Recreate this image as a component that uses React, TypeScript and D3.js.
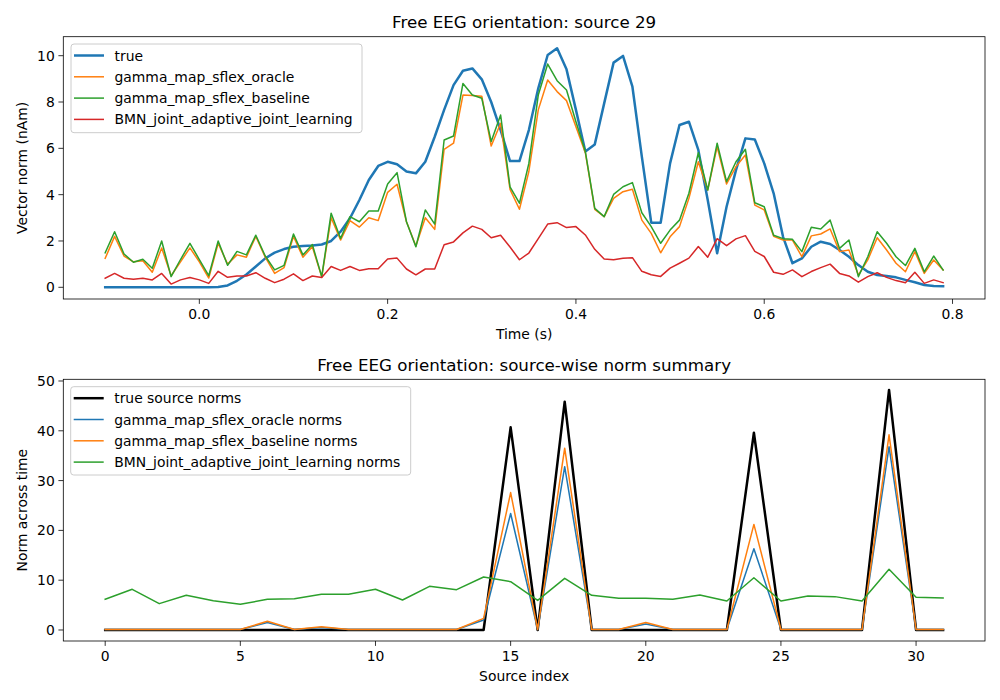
import React from 'react';
import * as d3 from 'd3';

// time axis: -0.10 .. 0.79 s, step 0.01
const times = d3.range(90).map(i => Math.round((-0.1 + i * 0.01) * 100) / 100);

const trueSeries = [
  0, 0, 0, 0, 0, 0, 0, 0, 0, 0, 0, 0,
  0.01, 0.08, 0.28, 0.55, 0.9, 1.25, 1.5, 1.65, 1.75, 1.78, 1.8, 1.85, 2.0,
  2.4, 2.98, 3.77, 4.63, 5.24, 5.42, 5.31, 5.0, 4.92, 5.42, 6.5, 7.66, 8.73, 9.35, 9.45, 8.98, 8.0, 6.79, 5.45, 5.45, 6.79, 8.59, 10.03,
  10.32, 9.41, 7.66, 5.86, 6.17, 7.94, 9.7, 9.99, 8.66, 5.64, 2.79, 2.79, 5.35, 7.01, 7.15, 5.93, 3.77, 1.47, 3.48, 5.06, 6.43, 6.38, 5.35, 4.06,
  2.18, 1.04, 1.25, 1.75, 1.97, 1.87, 1.61, 1.32, 0.96, 0.67, 0.53, 0.49, 0.43, 0.32, 0.22, 0.1, 0.06, 0.05,
];

const oracleSeries = [
  1.25, 2.2, 1.35, 1.1, 1.15, 0.65, 1.7, 0.5, 1.1, 1.7,
  1.1, 0.4, 1.9, 1.0, 1.4, 1.3, 2.2, 1.3, 0.6, 0.85,
  2.2, 1.3, 1.75, 0.45, 3.0,
  2.04, 2.88, 2.6, 3.0, 2.88, 4.1, 4.45, 2.83, 1.78, 3.0, 2.5, 5.96, 6.22, 8.3, 8.28, 8.25, 6.1, 7.08, 4.23, 3.37, 5.0, 7.66, 8.95,
  8.45, 8.06, 6.93, 5.81, 3.36, 3.05, 3.84, 4.13, 4.23, 2.9, 2.33, 1.49, 2.18, 2.62, 3.84, 5.42, 4.2, 6.07, 4.46, 5.21, 5.71, 3.55, 3.34, 2.2,
  2.04, 2.04, 1.32, 2.22, 2.3, 2.52, 1.54, 1.61, 0.53, 1.18, 2.14, 1.61, 1.04, 0.67, 1.54, 0.6, 1.18, 0.75,
];

const baselineSeries = [
  1.49, 2.4, 1.44, 1.08, 1.21, 0.82, 2.0, 0.46, 1.2, 1.9,
  1.2, 0.5, 2.0, 0.95, 1.55, 1.4, 2.25, 1.35, 0.75, 0.95,
  2.3, 1.4, 1.85, 0.46, 3.2,
  2.11, 3.05, 2.83, 3.29, 3.29, 4.46, 4.95, 2.83, 1.75, 3.34, 2.73, 6.36, 6.53, 8.8, 8.3, 8.16, 6.29, 7.44, 4.34, 3.63, 5.35, 8.3, 9.64,
  8.92, 8.52, 7.15, 5.86, 3.41, 3.05, 4.01, 4.34, 4.52, 3.22, 2.62, 1.9, 2.47, 2.9, 4.06, 5.81, 4.2, 6.22, 4.56, 5.42, 5.96, 3.65, 3.48, 2.25,
  2.1, 2.07, 1.54, 2.59, 2.52, 2.9, 1.68, 2.04, 0.46, 1.32, 2.4, 1.9, 1.32, 0.94, 1.68, 0.67, 1.35, 0.75,
];

const bmnSeries = [
  0.39, 0.6, 0.39, 0.35, 0.39, 0.32, 0.6, 0.14, 0.32, 0.42,
  0.32, 0.17, 0.69, 0.43, 0.49, 0.49, 0.63, 0.39, 0.2, 0.35,
  0.58, 0.29, 0.49, 0.42, 0.9,
  0.73, 0.9, 0.73, 0.8, 0.8, 1.22, 1.26, 0.79, 0.54, 0.79, 0.79, 1.84, 1.96, 2.35, 2.64, 2.5, 2.14, 2.25, 1.74, 1.19, 1.48, 2.1, 2.73,
  2.79, 2.58, 2.62, 2.26, 1.64, 1.22, 1.19, 1.25, 1.28, 0.69, 0.54, 0.47, 0.83, 1.04, 1.26, 1.76, 1.3, 2.1, 1.8, 2.09, 2.23, 1.55, 1.33, 0.65,
  0.56, 0.75, 0.46, 0.68, 0.85, 1.0, 0.6, 0.49, 0.22, 0.46, 0.63, 0.43, 0.29, 0.2, 0.65, 0.17, 0.32, 0.2,
];

// source-wise norms, sources 0..31
const sources = d3.range(32);
const trueNorms = [
  0, 0, 0, 0, 0, 0, 0, 0, 0, 0, 0, 0, 0, 0, 0, 40.7,
  0, 45.85, 0, 0, 0, 0, 0, 0, 39.6, 0, 0, 0, 0, 48.2, 0, 0,
];
const oracleNorms = [
  0.1, 0.1, 0.1, 0.1, 0.1, 0.1, 1.5, 0.1, 0.5, 0.1, 0.1, 0.1, 0.1, 0.1, 2.0, 23.4,
  0.1, 32.8, 0.1, 0.1, 1.2, 0.1, 0.1, 0.1, 16.3, 0.1, 0.1, 0.1, 0.1, 36.8, 0.1, 0.1,
];
const baselineNorms = [
  0.1, 0.1, 0.1, 0.1, 0.1, 0.1, 1.75, 0.1, 0.65, 0.1, 0.1, 0.1, 0.1, 0.1, 2.34, 27.6,
  0.1, 36.5, 0.1, 0.1, 1.5, 0.1, 0.1, 0.1, 21.2, 0.1, 0.1, 0.1, 0.1, 39.2, 0.1, 0.1,
];
const bmnNorms = [
  6.16, 8.17, 5.29, 6.97, 5.89, 5.15, 6.16, 6.29, 7.17, 7.17, 8.17, 6.02, 8.77, 8.1, 10.64, 9.71,
  5.95, 10.37, 6.97, 6.36, 6.36, 6.16, 7.03, 5.82, 10.5, 5.82, 6.83, 6.7, 5.82, 12.2, 6.56, 6.43,
];

const topXTicks = [0, 0.2, 0.4, 0.6, 0.8];
const topYTicks = [0, 2, 4, 6, 8, 10];
const botXTicks = [0, 5, 10, 15, 20, 25, 30];
const botYTicks = [0, 10, 20, 30, 40, 50];

const FONT = 'DejaVu Sans, sans-serif';
const left = 63.3, right = 985;

type Series = { label: string; values: number[]; color: string; width: number };

const topSeries: Series[] = [
  { label: 'true', values: trueSeries, color: '#1f77b4', width: 2.5 },
  { label: 'gamma_map_sflex_oracle', values: oracleSeries, color: '#ff7f0e', width: 1.5 },
  { label: 'gamma_map_sflex_baseline', values: baselineSeries, color: '#2ca02c', width: 1.5 },
  { label: 'BMN_joint_adaptive_joint_learning', values: bmnSeries, color: '#d62728', width: 1.5 },
];

const botSeries: Series[] = [
  { label: 'true source norms', values: trueNorms, color: '#000000', width: 2.5 },
  { label: 'gamma_map_sflex_oracle norms', values: oracleNorms, color: '#1f77b4', width: 1.5 },
  { label: 'gamma_map_sflex_baseline norms', values: baselineNorms, color: '#ff7f0e', width: 1.5 },
  { label: 'BMN_joint_adaptive_joint_learning norms', values: bmnNorms, color: '#2ca02c', width: 1.5 },
];

function Panel(props: {
  xs: number[]; series: Series[];
  xDomain: [number, number]; yDomain: [number, number];
  top: number; bottom: number;
  xTicks: number[]; yTicks: number[]; fmtX: (v: number) => string;
  title: string; xLabel: string; yLabel: string;
  legend: { x: number; y: number; w: number; h: number };
}) {
  const { xs, series, top, bottom, legend } = props;
  const x = d3.scaleLinear().domain(props.xDomain).range([left, right]);
  const y = d3.scaleLinear().domain(props.yDomain).range([bottom, top]);
  const line = d3.line<number>().x((_, i) => x(xs[i])).y(d => y(d));
  const midX = (left + right) / 2;
  return (
    <g>
      {series.map(s => (
        <path key={s.label} d={line(s.values) || ''} fill="none" stroke={s.color}
          strokeWidth={s.width} strokeLinejoin="round" strokeLinecap="square" />
      ))}
      <rect x={left} y={top} width={right - left} height={bottom - top} fill="none" stroke="#000" strokeWidth={0.8} />
      {props.xTicks.map(t => (
        <g key={'x' + t}>
          <line x1={x(t)} x2={x(t)} y1={bottom} y2={bottom + 4.9} stroke="#000" strokeWidth={0.8} />
          <text x={x(t)} y={bottom + 20} textAnchor="middle" fontSize={13.9} fontFamily={FONT}>{props.fmtX(t)}</text>
        </g>
      ))}
      {props.yTicks.map(t => (
        <g key={'y' + t}>
          <line x1={left - 4.9} x2={left} y1={y(t)} y2={y(t)} stroke="#000" strokeWidth={0.8} />
          <text x={left - 8.5} y={y(t) + 5} textAnchor="end" fontSize={13.9} fontFamily={FONT}>{t}</text>
        </g>
      ))}
      <text x={midX} y={top - 8.5} textAnchor="middle" fontSize={16.7} fontFamily={FONT}>{props.title}</text>
      <text x={midX} y={bottom + 40} textAnchor="middle" fontSize={13.9} fontFamily={FONT}>{props.xLabel}</text>
      <text transform={`translate(27,${(top + bottom) / 2}) rotate(-90)`} textAnchor="middle"
        fontSize={13.9} fontFamily={FONT}>{props.yLabel}</text>
      <rect x={legend.x} y={legend.y} width={legend.w} height={legend.h} rx={3} ry={3}
        fill="#fff" fillOpacity={0.8} stroke="#cccccc" strokeWidth={1} />
      {series.map((s, i) => {
        const ry = legend.y + 11.5 + i * 21.3;
        return (
          <g key={'lg' + s.label}>
            <line x1={legend.x + 3} x2={legend.x + 33} y1={ry} y2={ry} stroke={s.color} strokeWidth={s.width} />
            <text x={legend.x + 43.5} y={ry + 5} fontSize={13.9} fontFamily={FONT}>{s.label}</text>
          </g>
        );
      })}
    </g>
  );
}

export default function App() {
  return (
    <svg width={1000} height={700} style={{ position: 'absolute', left: 0, top: 0, background: '#fff' }}>
      <rect width={1000} height={700} fill="#fff" />
      <Panel xs={times} series={topSeries} xDomain={[-0.1445, 0.8345]} yDomain={[-0.505, 10.82]}
        top={36.7} bottom={299} xTicks={topXTicks} yTicks={topYTicks} fmtX={d3.format('.1f')}
        title="Free EEG orientation: source 29" xLabel="Time (s)" yLabel="Vector norm (nAm)"
        legend={{ x: 71, y: 44, w: 291, h: 88.7 }} />
      <Panel xs={sources} series={botSeries} xDomain={[-1.55, 32.55]} yDomain={[-2.21, 50.34]}
        top={379.3} bottom={641} xTicks={botXTicks} yTicks={botYTicks} fmtX={d3.format('d')}
        title="Free EEG orientation: source-wise norm summary" xLabel="Source index" yLabel="Norm across time"
        legend={{ x: 70.7, y: 386.7, w: 340, h: 88.3 }} />
    </svg>
  );
}
